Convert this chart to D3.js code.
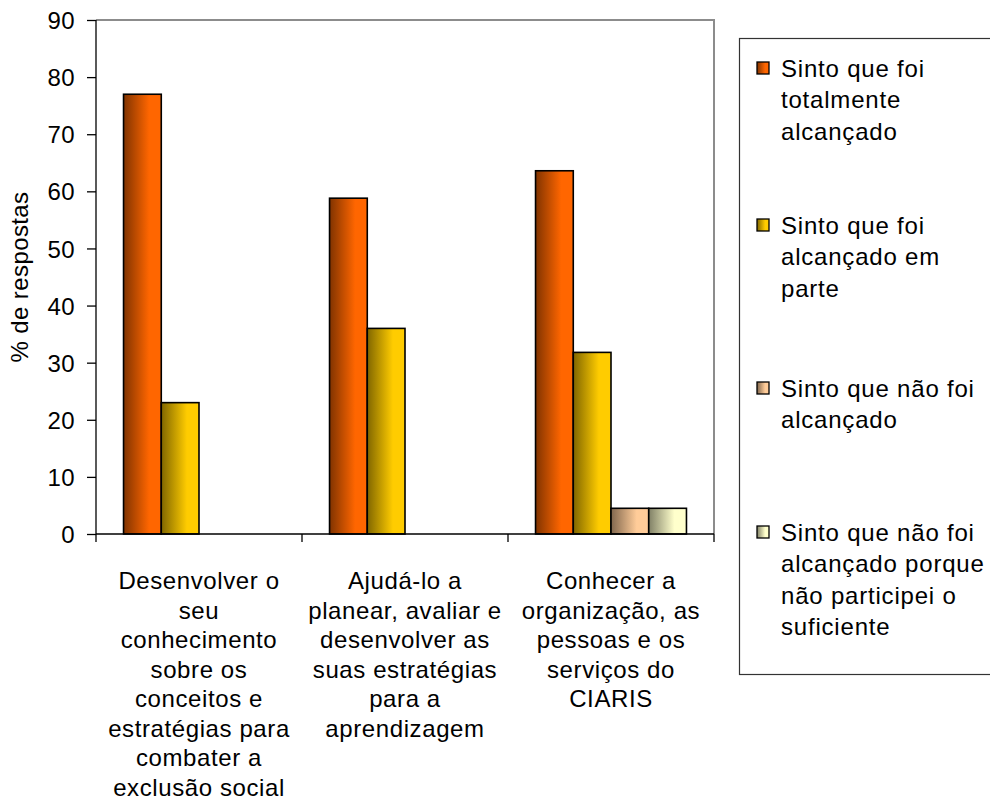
<!DOCTYPE html>
<html>
<head>
<meta charset="utf-8">
<script src="https://cdn.jsdelivr.net/npm/d3@7"></script>
<style>
  html, body { margin: 0; padding: 0; background: #fff; }
  svg { display: block; }
  text { font-family: "Liberation Sans", Arial, sans-serif; fill: #000; }
</style>
</head>
<body>
<svg id="chart" width="990" height="808"></svg>
<script>
// ---- data ----
const categories = [
  ["Desenvolver o", "seu", "conhecimento", "sobre os", "conceitos e", "estratégias para", "combater a", "exclusão social"],
  ["Ajudá-lo a", "planear, avaliar e", "desenvolver as", "suas estratégias", "para a", "aprendizagem"],
  ["Conhecer a", "organização, as", "pessoas e os", "serviços do", "CIARIS"]
];
const seriesNames = [
  ["Sinto que foi", "totalmente", "alcançado"],
  ["Sinto que foi", "alcançado em", "parte"],
  ["Sinto que não foi", "alcançado"],
  ["Sinto que não foi", "alcançado porque", "não participei o", "suficiente"]
];
const totalmente = [77, 58.8, 63.6];
const emParte = [23, 36, 31.8];
const naoFoi = [0, 0, 4.5];
const naoParticipei = [0, 0, 4.5];
const yTicks = [0, 10, 20, 30, 40, 50, 60, 70, 80, 90];
const yLabel = "% de respostas";
const seriesColors = ["#FF6600", "#FFCC00", "#FFCC99", "#FFFFCC"];

const seriesValues = [totalmente, emParte, naoFoi, naoParticipei];

// ---- layout ----
const svg = d3.select("#chart");
const plot = { left: 96, right: 714, top: 20, bottom: 534 };

const y = d3.scaleLinear().domain([0, 90]).range([plot.bottom, plot.top]);
const x0 = d3.scaleBand().domain(d3.range(categories.length)).range([plot.left, plot.right]).padding(0);
const x1 = d3.scaleBand().domain(d3.range(seriesValues.length)).range([0, x0.bandwidth()])
  .paddingInner(0).paddingOuter(0.73);

// gradients
const defs = svg.append("defs");
seriesColors.forEach((c, i) => {
  const dark = d3.interpolateRgb(c, "#000")(0.5);
  const g = defs.append("linearGradient").attr("id", "grad" + i)
    .attr("x1", "0%").attr("x2", "100%").attr("y1", "0%").attr("y2", "0%");
  g.append("stop").attr("offset", "0%").attr("stop-color", dark);
  g.append("stop").attr("offset", "68%").attr("stop-color", c);
  g.append("stop").attr("offset", "100%").attr("stop-color", c);
});

// plot frame (top/right gray)
svg.append("path")
  .attr("d", `M${plot.left},${plot.top}H${plot.right}V${plot.bottom}`)
  .attr("fill", "none").attr("stroke", "#8c8c8c").attr("stroke-width", 2);

// bars
const groups = svg.append("g").selectAll("g")
  .data(categories.map((c, ci) => ci))
  .join("g")
  .attr("transform", ci => `translate(${x0(ci)},0)`);

groups.selectAll("rect")
  .data(ci => seriesValues.map((vals, si) => ({ si, v: vals[ci] })).filter(d => d.v > 0))
  .join("rect")
  .attr("x", d => x1(d.si))
  .attr("width", x1.bandwidth())
  .attr("y", d => y(d.v))
  .attr("height", d => y(0) - y(d.v))
  .attr("fill", d => `url(#grad${d.si})`)
  .attr("stroke", "#000")
  .attr("stroke-width", 1.6);

// y axis
const yAxis = d3.axisLeft(y).tickValues(yTicks).tickSize(9).tickPadding(12).tickFormat(d3.format("d"));
const yg = svg.append("g").attr("transform", `translate(${plot.left},0)`).call(yAxis);
yg.select(".domain").attr("stroke", "#000").attr("stroke-width", 1.3).attr("d", `M0,${plot.top}V${plot.bottom}`);
yg.selectAll(".tick line").attr("stroke", "#000").attr("stroke-width", 1.3);
yg.selectAll(".tick text").style("font-family", '"Liberation Sans", Arial, sans-serif')
  .style("font-size", "24px").style("letter-spacing", "0.4px").attr("fill", "#000").attr("dy", "0.36em");

// x axis
const boundaries = d3.range(categories.length + 1).map(i => plot.left + i * x0.step());
svg.append("line").attr("x1", plot.left).attr("x2", plot.right)
  .attr("y1", plot.bottom).attr("y2", plot.bottom)
  .attr("stroke", "#000").attr("stroke-width", 1.3);
svg.append("g").selectAll("line").data(boundaries).join("line")
  .attr("x1", d => d).attr("x2", d => d)
  .attr("y1", plot.bottom).attr("y2", plot.bottom + 8)
  .attr("stroke", "#000").attr("stroke-width", 1.3);

// category labels
const catLine = 29.5;
const catG = svg.append("g").selectAll("text")
  .data(categories)
  .join("text")
  .attr("text-anchor", "middle")
  .style("font-size", "24px")
  .style("letter-spacing", "0.6px")
  .attr("x", (d, i) => x0(i) + x0.bandwidth() / 2)
  .attr("y", 589);
catG.selectAll("tspan").data(d => d).join("tspan")
  .attr("x", function () { return d3.select(this.parentNode).attr("x"); })
  .attr("dy", (d, i) => i === 0 ? 0 : catLine)
  .text(d => d);

// y label
svg.append("text")
  .attr("transform", `translate(28,${(plot.top + plot.bottom) / 2}) rotate(-90)`)
  .attr("text-anchor", "middle")
  .style("font-size", "24px")
  .style("letter-spacing", "0.4px")
  .text(yLabel);

// legend
svg.append("rect")
  .attr("x", 739.5).attr("y", 38.5).attr("width", 270).attr("height", 636)
  .attr("fill", "#fff").attr("stroke", "#333").attr("stroke-width", 1.2);

const legendFirstBaseline = [77, 234, 397, 541];
const legLine = 31.3;
const leg = svg.append("g").selectAll("g").data(seriesNames).join("g")
  .attr("transform", (d, i) => `translate(0,${legendFirstBaseline[i]})`);
leg.append("rect")
  .attr("x", 757).attr("y", -15).attr("width", 12).attr("height", 12)
  .attr("fill", (d, i) => `url(#grad${i})`)
  .attr("stroke", "#000").attr("stroke-width", 1.3);
const lt = leg.append("text").attr("x", 781).attr("y", 0)
  .style("font-size", "24px").style("letter-spacing", "0.8px");
lt.selectAll("tspan").data(d => d).join("tspan")
  .attr("x", 781)
  .attr("dy", (d, i) => i === 0 ? 0 : legLine)
  .text(d => d);
</script>
</body>
</html>
